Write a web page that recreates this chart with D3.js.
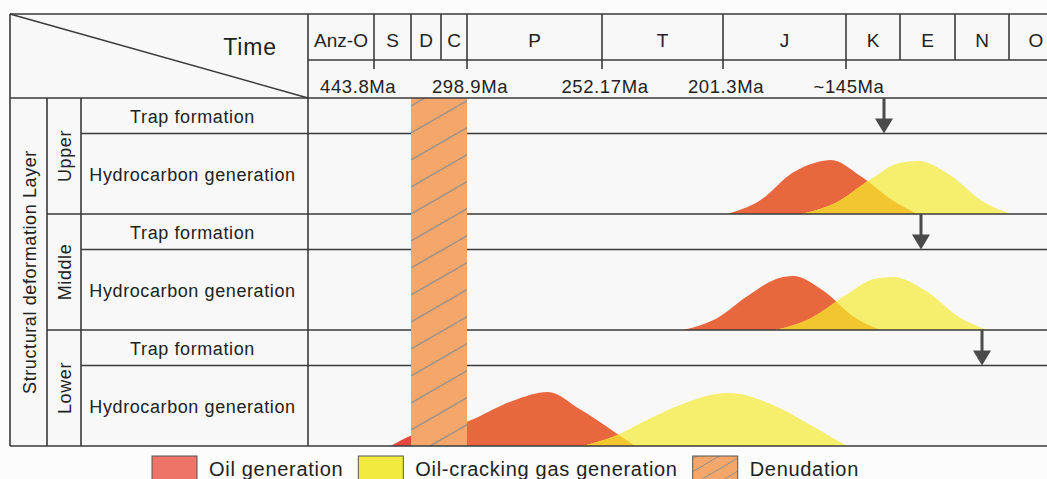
<!DOCTYPE html>
<html>
<head>
<meta charset="utf-8">
<script src="https://cdn.jsdelivr.net/npm/d3@7"></script>
<style>
  body { margin: 0; background: #fafafa; }
  svg text { font-family: "Liberation Sans", Arial, sans-serif; fill: #222; }
</style>
</head>
<body>
<svg id="chart" width="1047" height="479"></svg>
<script>
// ---- data ----
// periods along the top, oldest first
const periods = ["Anz-O", "S", "D", "C", "P", "T", "J", "K", "E", "N", "O"];
// period boundary ages in Ma (both outer ends included)
const boundaryAges = [485.4, 443.8, 419.2, 358.9, 298.9, 252.17, 201.3, 145, 66, 23.03, 2.58, 0];
const ageTicks = [443.8, 298.9, 252.17, 201.3, 145];
const ageLabels = ["443.8Ma", "298.9Ma", "252.17Ma", "201.3Ma", "~145Ma"];

const layers = ["Upper", "Middle", "Lower"];
const rowLabels = ["Trap formation", "Hydrocarbon generation"];

// trap formation time per layer (Ma)
const trapAges = [89.4, 49.6, 12.8];

// denudation interval (Ma)
const denudation = [419.2, 298.9];

// generation curves: [age Ma, relative intensity]
const oilUpper = [[199.5, 0], [184.4, 0.25], [169.3, 0.77], [158.3, 0.96], [151.9, 1], [124.5, 0.71], [76.2, 0.25], [52.7, 0]];
const gasUpper = [[165.6, 0], [149.6, 0.21], [108.4, 0.65], [66, 0.95], [51.9, 0.98], [26.9, 0.72], [12.8, 0.24], [2.5, 0]];
const oilMiddle = [[218.1, 0], [204.2, 0.21], [189.4, 0.65], [176.6, 0.95], [169.3, 1], [155.5, 0.73], [133.3, 0.24], [95.3, 0]];
const gasMiddle = [[177.5, 0], [161.5, 0.21], [145, 0.65], [102.6, 0.95], [76.2, 0.98], [45.7, 0.72], [21.5, 0.24], [10.9, 0]];
const oilLower = [[432.5, 0], [419.2, 0.19], [298.9, 0.45], [283.0, 0.84], [270.9, 1], [259.8, 0.68], [247.5, 0.28], [238.3, 0]];
const gasLower = [[258.8, 0], [247.5, 0.17], [233.3, 0.48], [219.4, 0.76], [199.0, 0.98], [175.2, 0.7], [160.1, 0.36], [143.5, 0]];

const oilCurves = [oilUpper, oilMiddle, oilLower];
const gasCurves = [gasUpper, gasMiddle, gasLower];

const legendLabels = ["Oil generation", "Oil-cracking gas generation", "Denudation"];

// ---- layout ----
const W = 1047;
const leftX = 10, topY = 14;
const labelRight = 308;
const col1 = 47, col2 = 81;
const headMid = 60, headBottom = 98;
const trapH = 35.5, hcH = 80.5;
const colWidths = [66, 37, 30, 26, 135, 121, 123, 54, 55, 54, 54];
const lineColor = "#3a3a3a";

const oilColor = "#e9673f";
const gasColor = "#f6ee6d";
const overlapColor = "#f2c62f";
const denuColor = "#f4a66b";

const edges = [labelRight];
colWidths.forEach(w => edges.push(edges[edges.length - 1] + w));

const x = d3.scaleLinear().domain(boundaryAges).range(edges);

const svg = d3.select("#chart");
const defs = svg.append("defs");

// hatch for denudation
const hatch = defs.append("pattern")
    .attr("id", "hatch")
    .attr("patternUnits", "userSpaceOnUse")
    .attr("x", x(denudation[0])).attr("y", 106)
    .attr("width", 46.8).attr("height", 27);
hatch.append("rect").attr("width", 46.8).attr("height", 27).attr("fill", denuColor);
hatch.append("line")
    .attr("x1", -4.68).attr("y1", 29.7).attr("x2", 51.48).attr("y2", -2.7)
    .attr("stroke", "#8f8f8f").attr("stroke-width", 1.2);

// backgrounds
svg.append("rect").attr("width", W).attr("height", 479).attr("fill", "#fcfcfc");
svg.append("rect").attr("x", leftX).attr("y", topY).attr("width", W - leftX).attr("height", 446 - topY).attr("fill", "#f8f8f8");

// row geometry
const layerTop = i => headBottom + i * (trapH + hcH);
const rows = layers.map((name, i) => ({
  name,
  trapTop: layerTop(i),
  hcTop: layerTop(i) + trapH,
  hcBottom: layerTop(i) + trapH + hcH
}));
const bodyBottom = rows[rows.length - 1].hcBottom;

// ---- curves ----
rows.forEach((r, i) => {
  const y = d3.scaleLinear().domain([0, 1]).range([r.hcBottom, r.hcBottom - 54]);
  const area = d3.area()
      .x(d => x(d[0]))
      .y0(r.hcBottom)
      .y1(d => y(d[1]))
      .curve(d3.curveMonotoneX);

  defs.append("clipPath").attr("id", "oilclip" + i)
    .append("path").attr("d", area(oilCurves[i]));

  svg.append("path").attr("d", area(oilCurves[i])).attr("fill", oilColor);

  // part of oil curve older than the denudation is redder
  defs.append("clipPath").attr("id", "preclip" + i)
    .append("rect").attr("x", 0).attr("y", r.hcTop)
    .attr("width", x(denudation[0])).attr("height", hcH);
  svg.append("path").attr("d", area(oilCurves[i]))
    .attr("fill", "#e5473f").attr("clip-path", `url(#preclip${i})`);

  svg.append("path").attr("d", area(gasCurves[i])).attr("fill", gasColor);
  svg.append("path").attr("d", area(gasCurves[i]))
    .attr("fill", overlapColor).attr("clip-path", `url(#oilclip${i})`);
});

// ---- grid lines ----
const g = svg.append("g").attr("stroke", lineColor).attr("stroke-width", 1.6).attr("fill", "none");
const hline = (y, x1) => g.append("line").attr("x1", x1).attr("x2", W).attr("y1", y).attr("y2", y);

rows.forEach((r, i) => {
  hline(r.hcTop, col2);
  if (i > 0) hline(r.trapTop, col1);
});

// denudation bar over the inner lines
svg.append("rect")
    .attr("x", x(denudation[0]))
    .attr("y", headBottom)
    .attr("width", x(denudation[1]) - x(denudation[0]))
    .attr("height", bodyBottom - headBottom)
    .attr("fill", "url(#hatch)");

const g2 = svg.append("g").attr("stroke", lineColor).attr("stroke-width", 1.6).attr("fill", "none");
g2.append("line").attr("x1", leftX).attr("x2", W).attr("y1", topY).attr("y2", topY);
g2.append("line").attr("x1", labelRight).attr("x2", W).attr("y1", headMid).attr("y2", headMid);
g2.append("line").attr("x1", leftX).attr("x2", W).attr("y1", headBottom).attr("y2", headBottom);
g2.append("line").attr("x1", leftX).attr("x2", W).attr("y1", bodyBottom).attr("y2", bodyBottom);
[leftX, labelRight].forEach(xx =>
  g2.append("line").attr("x1", xx).attr("x2", xx).attr("y1", topY).attr("y2", bodyBottom));
[col1, col2].forEach(xx =>
  g2.append("line").attr("x1", xx).attr("x2", xx).attr("y1", headBottom).attr("y2", bodyBottom));
g2.append("line").attr("x1", leftX).attr("y1", topY).attr("x2", labelRight).attr("y2", headBottom)
  .attr("stroke-width", 1.4);

// period boundaries in the header
boundaryAges.slice(1, -1).forEach(a =>
  g2.append("line").attr("x1", x(a)).attr("x2", x(a)).attr("y1", topY).attr("y2", headMid));
ageTicks.forEach(a =>
  g2.append("line").attr("x1", x(a)).attr("x2", x(a)).attr("y1", headMid).attr("y2", headMid + 9));

// ---- header text ----
svg.append("text").attr("x", 250).attr("y", 55)
  .attr("text-anchor", "middle").style("font-size", "23px").style("letter-spacing", "0.8px")
  .text("Time");

periods.forEach((p, i) => {
  svg.append("text")
    .attr("x", (x(boundaryAges[i]) + x(boundaryAges[i + 1])) / 2)
    .attr("y", 47)
    .attr("text-anchor", "middle")
    .style("font-size", "19px")
    .text(p);
});

ageTicks.forEach((a, i) => {
  const t = svg.append("text")
    .attr("y", 93)
    .attr("text-anchor", "middle")
    .style("font-size", "18.5px").style("letter-spacing", "0.6px")
    .text(ageLabels[i]);
  const half = t.node().getComputedTextLength() / 2;
  // first label sits against the left edge of the time columns
  t.attr("x", i === 0 ? labelRight + 12 + half : x(a) + 3);
});

// ---- left labels ----
svg.append("text")
  .attr("transform", `translate(${(leftX + col1) / 2 + 1},${(headBottom + bodyBottom) / 2}) rotate(-90)`)
  .attr("text-anchor", "middle").attr("dominant-baseline", "central")
  .style("font-size", "18px").style("letter-spacing", "0.6px")
  .text("Structural deformation Layer");

rows.forEach(r => {
  svg.append("text")
    .attr("transform", `translate(${(col1 + col2) / 2 + 1},${(r.trapTop + r.hcBottom) / 2}) rotate(-90)`)
    .attr("text-anchor", "middle").attr("dominant-baseline", "central")
    .style("font-size", "18px").style("letter-spacing", "0.6px")
    .text(r.name);
  [[r.trapTop, r.hcTop], [r.hcTop, r.hcBottom]].forEach((span, k) => {
    svg.append("text")
      .attr("x", (col2 + labelRight) / 2 - 2)
      .attr("y", (span[0] + span[1]) / 2 + 1)
      .attr("text-anchor", "middle").attr("dominant-baseline", "central")
      .style("font-size", "18px").style("letter-spacing", "0.6px")
      .text(rowLabels[k]);
  });
});

// ---- trap formation arrows ----
rows.forEach((r, i) => {
  const ax = x(trapAges[i]);
  svg.append("line")
    .attr("x1", ax).attr("x2", ax)
    .attr("y1", r.trapTop).attr("y2", r.hcTop - 12)
    .attr("stroke", "#4a4a4a").attr("stroke-width", 3);
  svg.append("path")
    .attr("d", `M${ax - 9},${r.hcTop - 15}L${ax + 9},${r.hcTop - 15}L${ax},${r.hcTop}Z`)
    .attr("fill", "#4a4a4a");
});

// ---- legend ----
const legendFills = ["#ee7467", "#f3ea40", "url(#lhatch)"];
const lh = defs.append("pattern")
    .attr("id", "lhatch").attr("patternUnits", "userSpaceOnUse")
    .attr("x", 0).attr("y", 452).attr("width", 22).attr("height", 13);
lh.append("rect").attr("width", 22).attr("height", 13).attr("fill", denuColor);
lh.append("line").attr("x1", -2.2).attr("y1", 14.3).attr("x2", 24.2).attr("y2", -1.3)
  .attr("stroke", "#8f8f8f").attr("stroke-width", 1);

let lx = 152;
legendLabels.forEach((lab, i) => {
  svg.append("rect")
    .attr("x", lx).attr("y", 456).attr("width", 45).attr("height", 28)
    .attr("fill", legendFills[i]).attr("stroke", "#555").attr("stroke-width", 1);
  const t = svg.append("text")
    .attr("x", lx + 45 + 12).attr("y", 476)
    .style("font-size", "20px").style("letter-spacing", "0.7px")
    .text(lab);
  lx = lx + 45 + 12 + t.node().getComputedTextLength() + 15;
});
</script>
</body>
</html>
